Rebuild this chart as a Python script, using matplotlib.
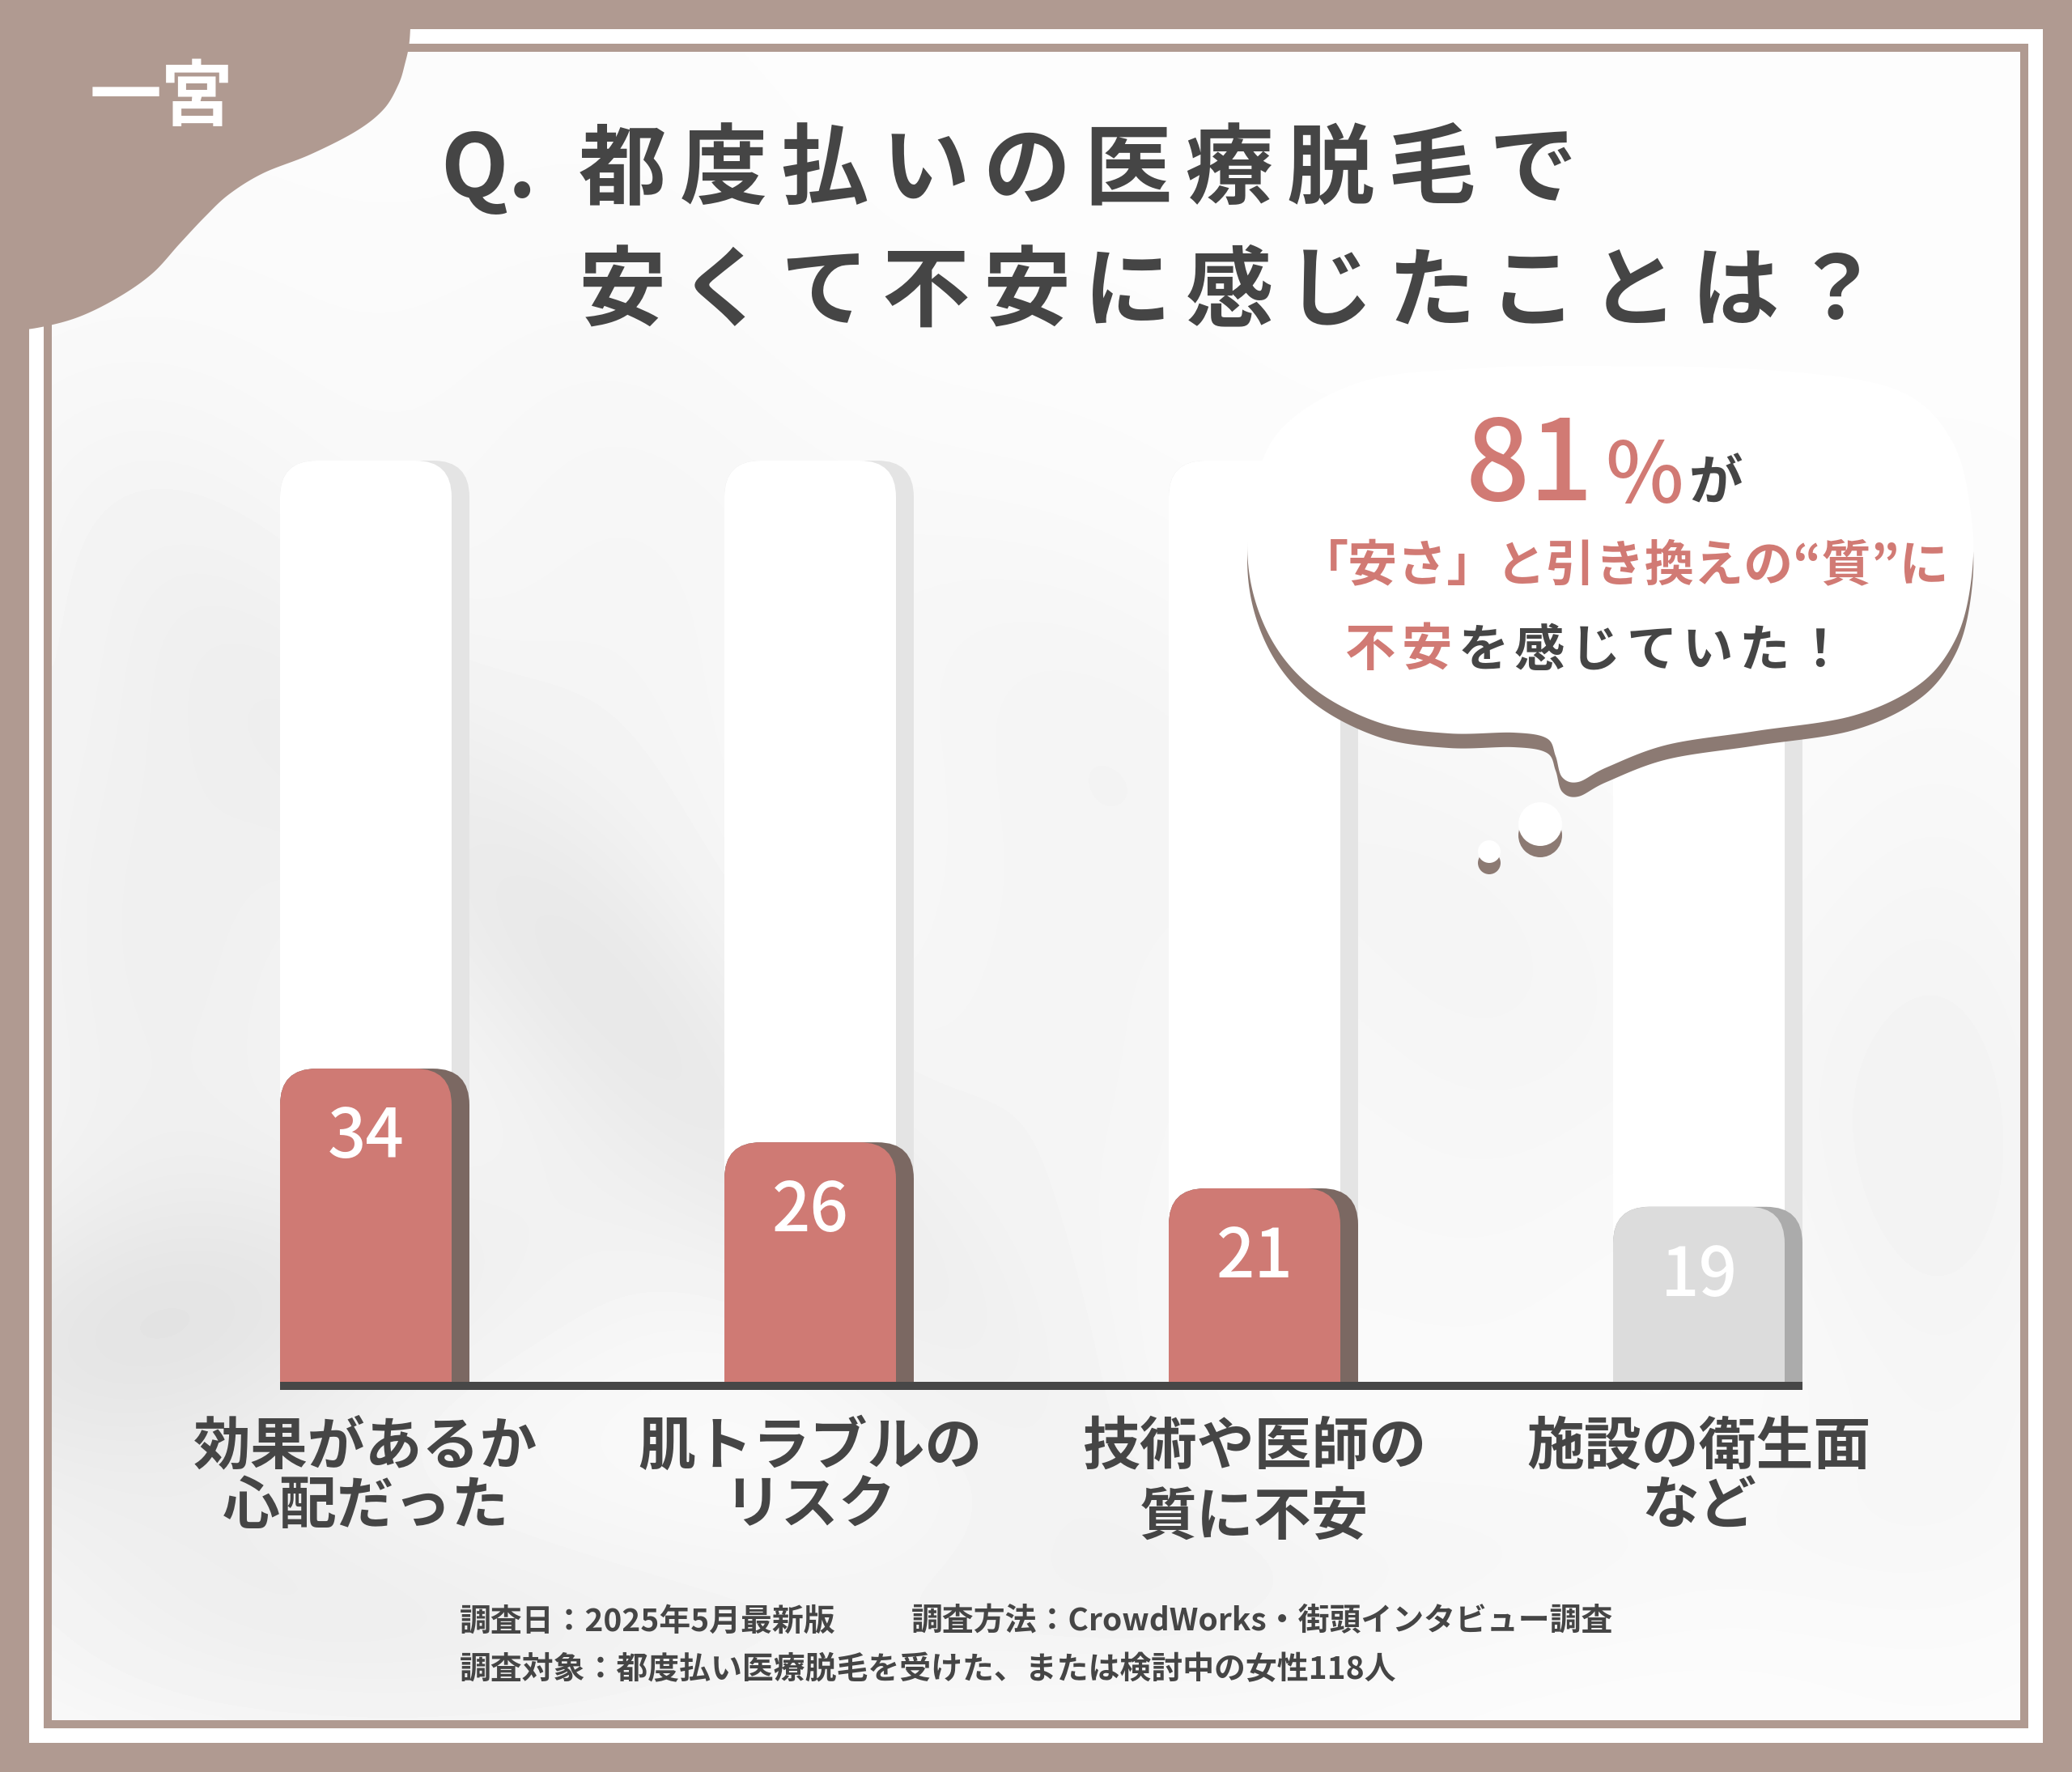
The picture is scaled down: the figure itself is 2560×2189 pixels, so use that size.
import numpy as np
import matplotlib.pyplot as plt
from matplotlib.patches import Rectangle, FancyBboxPatch, Polygon, Circle

plt.rcParams['font.family'] = ['Noto Sans CJK JP', 'DejaVu Sans']

# data
categories = [('効果があるか', '心配だった'),
              ('肌トラブルの', 'リスク'),
              ('技術や医師の', '質に不安'),
              ('施設の衛生面', 'など')]
values = [34, 26, 21, 19]
highlight = [True, True, True, False]
full_scale = 100
summary_pct = sum(v for v, h in zip(values, highlight) if h)   # 81

brand = '一宮'
title_q = 'Q.'
title1 = '都度払いの医療脱毛で'
title2 = '安くて不安に感じたことは？'
bubble_l2 = '「安さ」と引き換えの“質”に'
bubble_l3 = '不安を感じていた！'
footer1a = '調査日：2025年5月最新版'
footer1b = '調査方法：CrowdWorks・街頭インタビュー調査'
footer2 = '調査対象：都度払い医療脱毛を受けた、または検討中の女性118人'

# colours
BROWN = '#B09A91'
RED = '#CF7A74'
RED_SH = '#7B6862'
GRAY = '#DCDCDC'
GRAY_SH = '#ABABAB'
PILLAR_SH = '#E4E4E4'
DARK = '#454545'
PINK = '#D17A74'
BUB_SH = '#8C7A73'

W_PX, H_PX = 2560, 2189
fig = plt.figure(figsize=(W_PX / 100, H_PX / 100), dpi=100, facecolor=BROWN)


def catmull(pts, closed=True, n=16):
    P = np.asarray(pts, float)
    if closed:
        P = np.vstack([P[-1], P, P[0], P[1]])
    else:
        P = np.vstack([P[0], P, P[-1]])
    t = np.linspace(0, 1, n, endpoint=False)[:, None]
    out = []
    for i in range(1, len(P) - 2):
        p0, p1, p2, p3 = P[i - 1], P[i], P[i + 1], P[i + 2]
        out.append(0.5 * (2 * p1 + (-p0 + p2) * t + (2 * p0 - 5 * p1 + 4 * p2 - p3) * t ** 2
                          + (-p0 + 3 * p1 - 3 * p2 + p3) * t ** 3))
    if not closed:
        out.append(P[-2][None])
    return np.vstack(out)


# ---- background layer (pixel coords)
bg = fig.add_axes([0, 0, 1, 1])
bg.axis('off')
bg.add_patch(Rectangle((36, 36), 2488, 2117, fc='white', ec='none'))
bg.add_patch(Rectangle((54, 54), 2452, 2081, fc=BROWN, ec='none'))
bg.add_patch(Rectangle((64, 64), 2432, 2061, fc='#FAFAFA', ec='none'))

# smoky texture
xs = np.linspace(64, 2496, 480)
ys = np.linspace(64, 2125, 400)
X, Y = np.meshgrid(xs, ys)
field = np.full_like(X, 0.99)


def smoke(cx, cy, sx, sy, amp, ang=0.0):
    a = np.deg2rad(ang)
    u = (X - cx) * np.cos(a) + (Y - cy) * np.sin(a)
    v = -(X - cx) * np.sin(a) + (Y - cy) * np.cos(a)
    return amp * np.exp(-0.5 * ((u / sx) ** 2 + (v / sy) ** 2))


field -= smoke(200, 1150, 200, 450, 0.05)
field -= smoke(820, 1300, 520, 110, 0.05, 45)
field -= smoke(200, 1640, 340, 120, 0.065, -10)
field -= smoke(740, 1050, 180, 450, 0.03)
field -= smoke(1290, 1300, 200, 400, 0.03)
field -= smoke(1830, 1300, 200, 350, 0.02)
field -= smoke(2400, 1400, 160, 360, 0.035)
field -= smoke(1200, 1990, 750, 100, 0.025, -5)
field -= smoke(350, 1950, 320, 130, 0.04, 10)
field -= smoke(1500, 950, 550, 140, 0.015, 30)
bg.imshow(field, cmap='gray', vmin=0, vmax=1, extent=(64, 2496, 2125, 64),
          interpolation='bicubic', aspect='auto', zorder=1)

blob_pts = [(508, 0), (506, 50), (500, 80), (492, 105), (474, 135), (440, 162),
            (383, 191), (325, 214), (283, 240), (253, 268), (222, 301), (188, 338),
            (145, 368), (96, 392), (46, 405), (0, 410)]
blob = np.vstack([[[0, 0]], catmull(blob_pts, closed=False)])
bg.add_patch(Polygon(blob, closed=True, fc=BROWN, ec='none', zorder=2))
bg.set_xlim(0, W_PX)
bg.set_ylim(H_PX, 0)

# ---- bar chart axes
PX_X, PX_Y = 549.0, 11.38
x0_px, base_px = 463, 1707
ax = fig.add_axes([(x0_px - 0.5 * PX_X) / W_PX, (H_PX - base_px) / H_PX,
                   4 * PX_X / W_PX, 102 * PX_Y / H_PX])
ax.set_xlim(-0.5, 3.5)
ax.set_ylim(0, 102)
ax.axis('off')
ax.patch.set_alpha(0)

W = 234 / PX_X
WR = 212 / PX_X
R = 45 / PX_X
ASP = PX_X / PX_Y


def rbar(xl, h, w, color, z):
    ax.add_patch(FancyBboxPatch((xl, -10), w, h + 10,
                                boxstyle=f'round,pad=0,rounding_size={R}',
                                mutation_aspect=ASP, fc=color, ec='none', zorder=z))


pos = np.arange(len(values))
label_dy = [0, 0, -1.2, 0]
for x, v, hl, (l1, l2), dy in zip(pos, values, highlight, categories, label_dy):
    xl = x - W / 2
    rbar(xl, full_scale, W, PILLAR_SH, 1)
    rbar(xl, full_scale, WR, 'white', 2)
    rbar(xl, v, W, RED_SH if hl else GRAY_SH, 3)
    rbar(xl, v, WR, RED if hl else GRAY, 4)
    ax.text(xl + WR / 2, v - 7.6, str(v), ha='center', va='center',
            color='white', fontsize=60, fontweight='medium', zorder=6)
    ax.text(xl + WR / 2, -7.1, l1, ha='center', va='center', color=DARK,
            fontsize=51, fontweight='bold', clip_on=False)
    ax.text(xl + WR / 2, -13.5 + dy, l2, ha='center', va='center', color=DARK,
            fontsize=51, fontweight='bold', clip_on=False)

ax.add_patch(Rectangle((-W / 2, -10 / PX_Y), pos[-1] + W, 10 / PX_Y,
                       fc='#474747', ec='none', clip_on=False, zorder=7))

# ---- top layer: bubble, titles, footer
top = fig.add_axes([0, 0, 1, 1])
top.set_xlim(0, W_PX)
top.set_ylim(H_PX, 0)
top.axis('off')
top.patch.set_alpha(0)

bub_pts = [(1990, 452), (2200, 458), (2345, 482), (2412, 545), (2436, 640),
           (2435, 720), (2416, 790), (2372, 845), (2290, 884), (2170, 903),
           (2060, 920), (1985, 948), (1950, 966), (1930, 960), (1922, 934),
           (1911, 912), (1870, 905), (1790, 906), (1705, 893), (1625, 852),
           (1572, 792), (1544, 712), (1546, 625), (1580, 533), (1680, 472),
           (1820, 455)]
bub = catmull(bub_pts, closed=True)
top.add_patch(Polygon(bub + [0, 18], closed=True, fc=BUB_SH, ec='none'))
top.add_patch(Polygon(bub, closed=True, fc='white', ec='none'))
for cx, cy, r in [(1903, 1018, 27), (1840, 1052, 14)]:
    top.add_patch(Circle((cx, cy + 14), r, fc=BUB_SH, ec='none'))
    top.add_patch(Circle((cx, cy), r, fc='white', ec='none'))

top.text(1890, 578, str(summary_pct), ha='center', va='center', color=PINK,
         fontsize=100, fontweight='medium')
top.text(2032, 592, '%', ha='center', va='center', color=PINK,
         fontsize=74, fontweight='medium')
top.text(2120, 598, 'が', ha='center', va='center', color=DARK,
         fontsize=48, fontweight='bold')


def spaced(x0, y, s, pitch, colors, size, weight='bold'):
    for i, (ch, c) in enumerate(zip(s, colors)):
        top.text(x0 + (i + 0.5) * pitch, y, ch, ha='center', va='center',
                 color=c, fontsize=size, fontweight=weight)


top.text(2007, 700, bubble_l2, ha='center', va='center', color=PINK,
         fontsize=44, fontweight='bold')
spaced(1659, 804, bubble_l3, 69.4, [PINK] * 2 + [DARK] * 7, 45)

top.text(199, 122, brand, ha='center', va='center', color='white',
         fontsize=64, fontweight='bold')

top.text(544, 212, title_q, ha='left', va='center', color=DARK,
         fontsize=78, fontweight='bold')
spaced(706, 212, title1, 125, [DARK] * len(title1), 78)
spaced(706, 363, title2, 125, [DARK] * len(title2), 78)

top.text(568, 2003, footer1a, ha='left', va='center', color=DARK,
         fontsize=28, fontweight='bold')
top.text(1126, 2003, footer1b, ha='left', va='center', color=DARK,
         fontsize=28, fontweight='bold')
top.text(568, 2063, footer2, ha='left', va='center', color=DARK,
         fontsize=28, fontweight='bold')

fig.savefig('out.png', dpi=100, facecolor=BROWN)
